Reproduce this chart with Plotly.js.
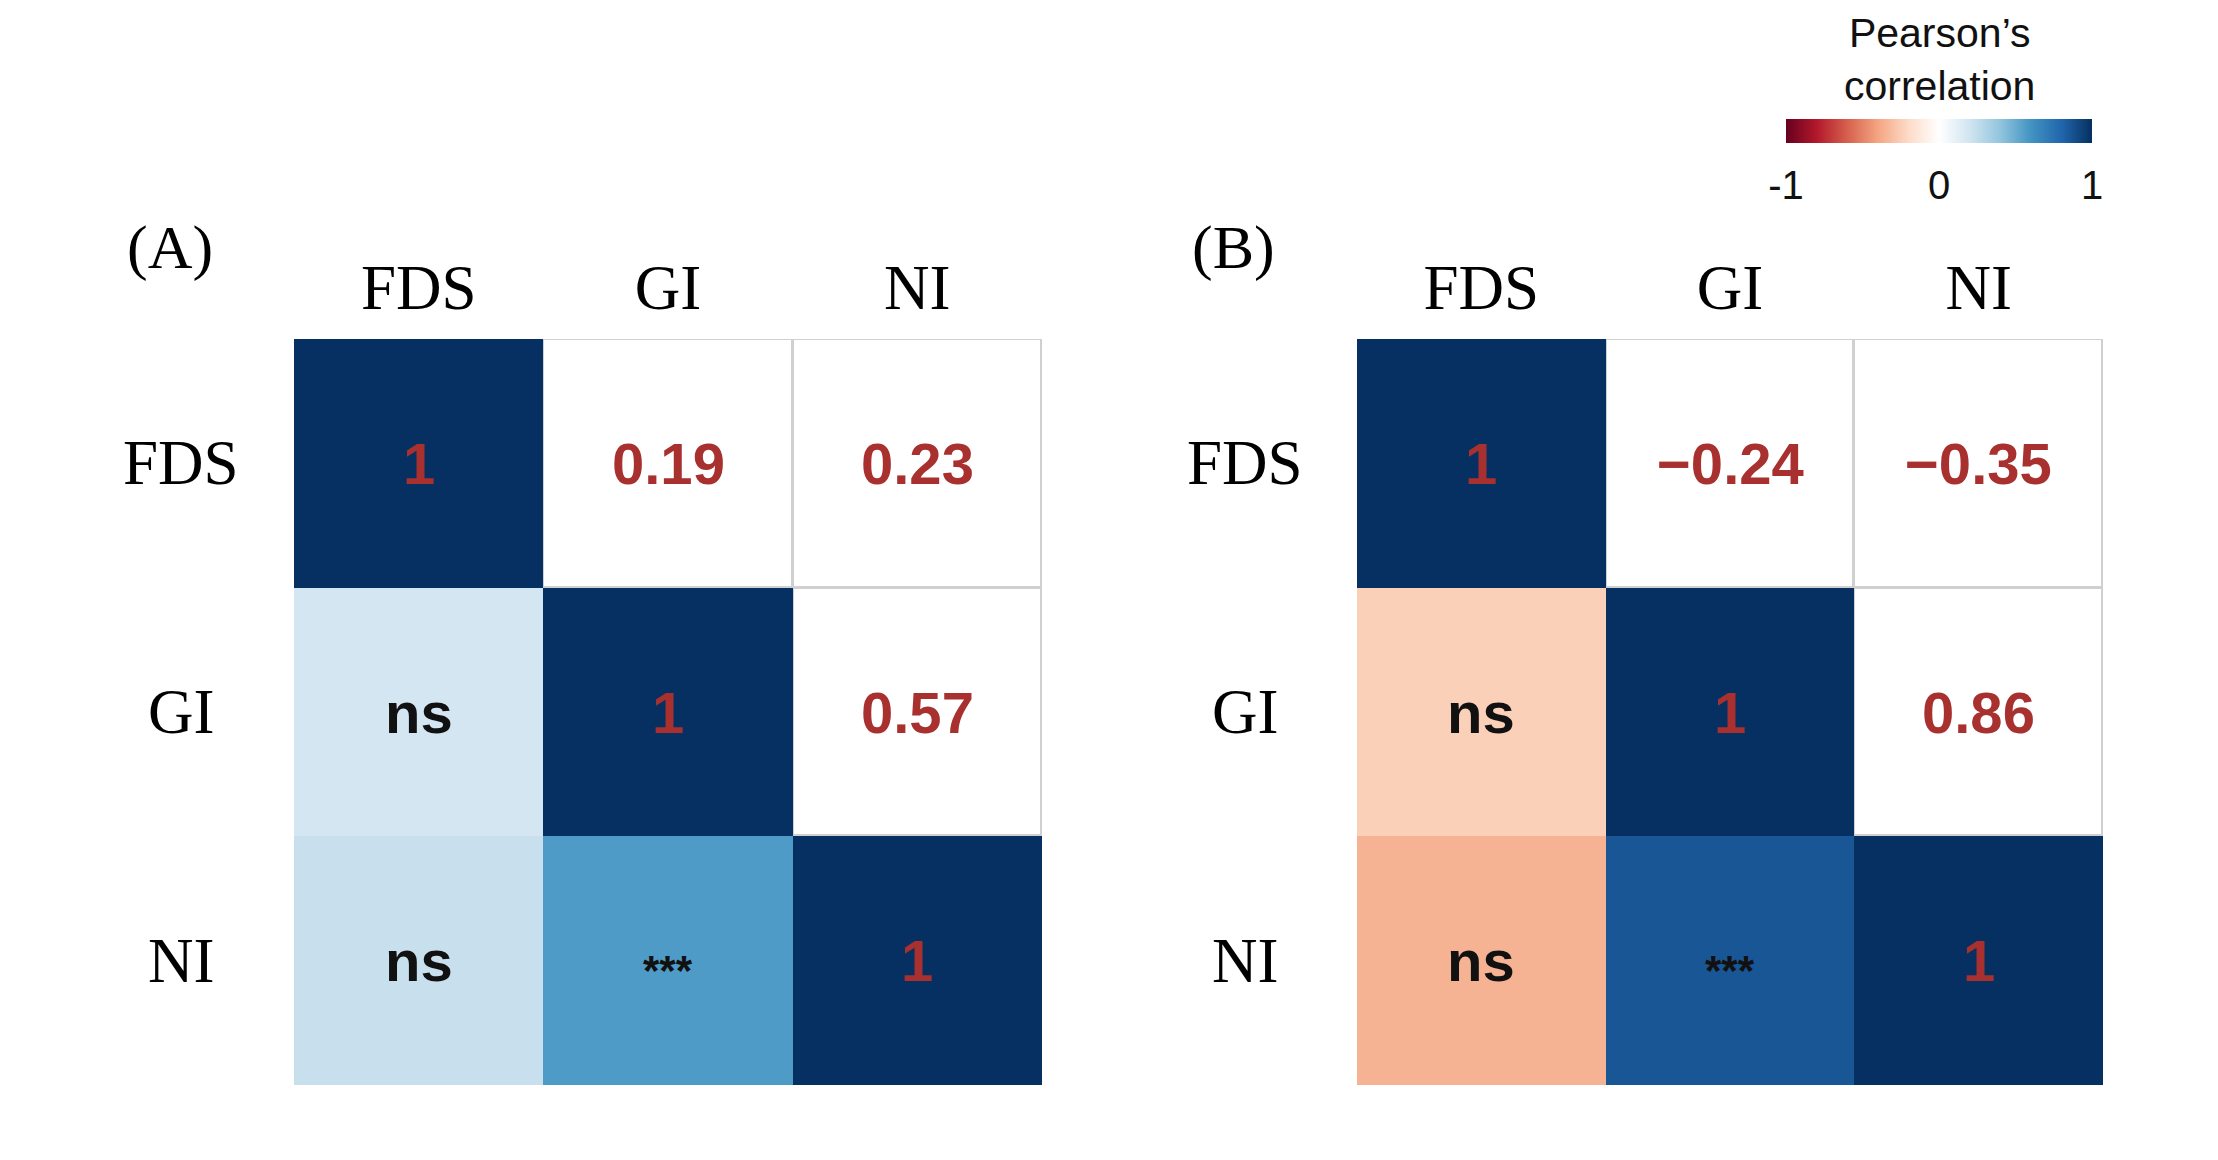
<!DOCTYPE html>
<html>
<head>
<meta charset="utf-8">
<script src="https://cdn.plot.ly/plotly-3.0.1.min.js"></script>
<style>html,body{margin:0;padding:0;background:#fff;}#chart{width:2218px;height:1160px;}</style>
</head>
<body>
<div id="chart"></div>
<script>
// ---- data ----
const vars = ['FDS', 'GI', 'NI'];
const corrA = [
  [1, 0.19, 0.23],
  [0.19, 1, 0.57],
  [0.23, 0.57, 1]
];
const corrB = [
  [1, -0.24, -0.35],
  [-0.24, 1, 0.86],
  [-0.35, 0.86, 1]
];
const sigA = [
  ['', '', ''],
  ['ns', '', ''],
  ['ns', '***', '']
];
const sigB = [
  ['', '', ''],
  ['ns', '', ''],
  ['ns', '***', '']
];
const panelLabels = ['(A)', '(B)'];
const cbTitle = 'Pearson\u2019s<br>correlation';
const cbTickVals = [-1, 0, 1];
const cbTickText = ['-1', '0', '1'];

// corrplot COL2('RdBu')
const rdbu = ['#67001F', '#B2182B', '#D6604D', '#F4A582', '#FDDBC7', '#FFFFFF',
              '#D1E5F0', '#92C5DE', '#4393C3', '#2166AC', '#053061'];
const colorscale = rdbu.map((c, i) => [i / (rdbu.length - 1), c]);

const SERIF = 'Liberation Serif, Times New Roman, serif';
const SANS = 'Liberation Sans, Arial, sans-serif';
const RED = '#A8302F';

function fmt(v) {
  if (v === 1) return '1';
  return (v < 0 ? '\u2212' : '') + Math.abs(v).toFixed(2);
}

const panels = [
  {corr: corrA, sig: sigA, xa: 'x', ya: 'y', xdom: [294 / 2218, 1042 / 2218], rowX: 181 / 2218, labX: 170 / 2218},
  {corr: corrB, sig: sigB, xa: 'x2', ya: 'y2', xdom: [1357 / 2218, 2103 / 2218], rowX: 1245 / 2218, labX: 1233 / 2218}
];

const traces = [];
const annotations = [];

panels.forEach((p, k) => {
  const lower = p.corr.map((row, i) => row.map((v, j) => (j <= i ? v : null)));
  const upper = p.corr.map((row, i) => row.map((v, j) => (j > i ? v : null)));
  traces.push({
    type: 'heatmap', x: vars, y: vars, z: lower, coloraxis: 'coloraxis',
    xaxis: p.xa, yaxis: p.ya, hoverinfo: 'skip'
  });
  traces.push({
    type: 'heatmap', x: vars, y: vars, z: upper,
    colorscale: [[0, '#FFFFFF'], [1, '#FFFFFF']], showscale: false,
    xgap: 3, ygap: 3, xaxis: p.xa, yaxis: p.ya, hoverinfo: 'skip'
  });
  // cell texts
  p.corr.forEach((row, i) => {
    row.forEach((v, j) => {
      if (j >= i) {
        annotations.push({
          xref: p.xa, yref: p.ya, x: vars[j], y: vars[i], text: fmt(v),
          showarrow: false, font: {family: SANS, size: 58, color: RED, weight: 'bold'}
        });
      } else {
        const s = p.sig[i][j];
        const stars = s.indexOf('*') >= 0;
        annotations.push({
          xref: p.xa, yref: p.ya, x: vars[j], y: vars[i], text: s,
          showarrow: false, yshift: stars ? -10 : 0,
          font: {family: SANS, size: stars ? 42 : 58, color: '#111111', weight: 'bold'}
        });
      }
    });
    // row label
    annotations.push({
      xref: 'paper', yref: p.ya, x: p.rowX, y: vars[i], xanchor: 'center', text: vars[i],
      showarrow: false, font: {family: SERIF, size: 63, color: '#000'}
    });
  });
  annotations.push({
    xref: 'paper', yref: 'paper', x: p.labX, y: 1 - 248 / 1160, xanchor: 'center', yanchor: 'middle',
    text: panelLabels[k], showarrow: false, font: {family: SERIF, size: 62, color: '#000'}
  });
});

// colorbar title
annotations.push({
  xref: 'paper', yref: 'paper', x: 1939 / 2218, y: 1 - 60 / 1160, xanchor: 'center', yanchor: 'middle',
  text: cbTitle, showarrow: false, font: {family: SANS, size: 41, color: '#111'}
});

const ydom = [1 - 1085 / 1160, 1 - 339 / 1160];
function xaxisDef(dom, anchor) {
  return {
    domain: dom, anchor: anchor, side: 'top', type: 'category', categoryorder: 'array', categoryarray: vars,
    range: [-0.5, 2.5], ticks: '', showgrid: false, zeroline: false, showline: false,
    ticklabelstandoff: 16,
    tickfont: {family: SERIF, size: 63, color: '#000'}, fixedrange: true
  };
}
function yaxisDef(anchor) {
  return {
    domain: ydom, anchor: anchor, type: 'category', categoryorder: 'array', categoryarray: vars,
    range: [2.5, -0.5], showticklabels: false, ticks: '', showgrid: false, zeroline: false,
    showline: false, fixedrange: true
  };
}

const layout = {
  width: 2218, height: 1160,
  margin: {l: 0, r: 0, t: 0, b: 0, pad: 0},
  paper_bgcolor: '#FFFFFF', plot_bgcolor: '#D0D0D0',
  showlegend: false,
  xaxis: xaxisDef(panels[0].xdom, 'y'),
  yaxis: yaxisDef('x'),
  xaxis2: xaxisDef(panels[1].xdom, 'y2'),
  yaxis2: yaxisDef('x2'),
  coloraxis: {
    cmin: -1, cmax: 1, colorscale: colorscale,
    colorbar: {
      orientation: 'h', x: 1939 / 2218, xanchor: 'center', y: 1 - 119 / 1160, yanchor: 'top',
      len: 306 / 2218, lenmode: 'fraction', thickness: 24, thicknessmode: 'pixels',
      xpad: 0, ypad: 0, outlinewidth: 0, ticks: 'outside', ticklen: 8, tickcolor: 'rgba(0,0,0,0)',
      tickvals: cbTickVals, ticktext: cbTickText,
      tickfont: {family: SANS, size: 40, color: '#111'}
    }
  },
  annotations: annotations
};

Plotly.newPlot('chart', traces, layout, {displayModeBar: false, staticPlot: true});
</script>
</body>
</html>
